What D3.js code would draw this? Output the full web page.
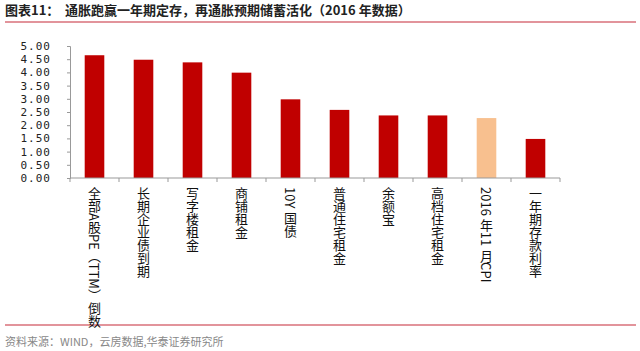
<!DOCTYPE html>
<html>
<head>
<meta charset="utf-8">
<script src="https://cdn.jsdelivr.net/npm/d3@7"></script>
<style>
  body { margin: 0; background: #fff; }
  svg { display: block; }
</style>
</head>
<body>
<div id="chart"></div>
<script>
// data
var categories = ["全部A股PE（TTM）倒数", "长期企业债到期", "写字楼租金", "商铺租金", "10Y 国债",
                  "普通住宅租金", "余额宝", "高档住宅租金", "2016 年11 月CPI", "一年期存款利率"];
var values = [4.65, 4.48, 4.38, 3.99, 2.98, 2.58, 2.37, 2.37, 2.27, 1.48];
var yTicks = [0, 0.5, 1, 1.5, 2, 2.5, 3, 3.5, 4, 4.5, 5];

var W = 640, H = 351;
var margin = {top: 46, left: 70, right: 80, bottom: 173};
var width = W - margin.left - margin.right,
    height = H - margin.top - margin.bottom;

var svg = d3.select("#chart").append("svg")
    .attr("width", W)
    .attr("height", H);

// title
svg.append("text")
    .attr("x", 5).attr("y", 15)
    .style("font-family", "Noto Sans CJK SC")
    .style("font-weight", "bold")
    .style("font-size", "13px")
    .style("fill", "#222")
    .text("图表11：");
svg.append("text")
    .attr("x", 65).attr("y", 15)
    .style("font-family", "Noto Sans CJK SC")
    .style("font-weight", "bold")
    .style("font-size", "13px")
    .style("fill", "#222")
    .text("通胀跑赢一年期定存，再通胀预期储蓄活化（2016 年数据）");

svg.append("line")
    .attr("x1", 5).attr("x2", 636).attr("y1", 22).attr("y2", 22)
    .style("stroke", "#d9707a").style("stroke-width", 1.5);

svg.append("line")
    .attr("x1", 5).attr("x2", 636).attr("y1", 325).attr("y2", 325)
    .style("stroke", "#d9707a").style("stroke-width", 1.5);

svg.append("text")
    .attr("x", 5).attr("y", 346)
    .style("font-family", "Noto Sans CJK SC")
    .style("font-size", "11px")
    .style("fill", "#888")
    .text("资料来源：WIND，云房数据,华泰证券研究所");

var g = svg.append("g")
    .attr("transform", "translate(" + margin.left + "," + margin.top + ")");

var x = d3.scaleBand()
    .domain(categories)
    .range([0, width])
    .paddingInner(0.6)
    .paddingOuter(0.3);

var y = d3.scaleLinear()
    .domain([0, 5])
    .range([height, 0]);

// bars
g.selectAll(".bar")
    .data(values)
    .enter()
    .append("rect")
    .attr("class", "bar")
    .attr("x", function(d, i) { return x(categories[i]); })
    .attr("width", x.bandwidth())
    .attr("y", function(d) { return y(d); })
    .attr("height", function(d) { return height - y(d); })
    .style("fill", function(d, i) { return categories[i].indexOf("CPI") >= 0 ? "#f8c08f" : "#c00000"; });

// y axis
var yAxis = g.append("g")
    .call(d3.axisLeft(y).tickValues(yTicks).tickSize(3).tickPadding(16)
        .tickFormat(d3.format(".2f")));
yAxis.select(".domain").style("stroke", "#999");
yAxis.selectAll(".tick line").style("stroke", "#999");
yAxis.selectAll("text")
    .style("font-family", "DejaVu Sans Mono")
    .style("font-size", "11px")
    .style("letter-spacing", "1px")
    .style("fill", "#222");

// x axis: line with ticks between categories
var step = x.step();
g.append("line")
    .attr("x1", 0).attr("x2", width)
    .attr("y1", height).attr("y2", height)
    .style("stroke", "#999");
g.selectAll(".xtick")
    .data(d3.range(categories.length + 1))
    .enter()
    .append("line")
    .attr("x1", function(i) { return i * step; })
    .attr("x2", function(i) { return i * step; })
    .attr("y1", height).attr("y2", height + 4)
    .style("stroke", "#999");

// vertical category labels
g.selectAll(".xlabel")
    .data(categories)
    .enter()
    .append("text")
    .attr("class", "xlabel")
    .attr("x", function(d) { return x(d) + x.bandwidth() / 2; })
    .attr("y", height + 9)
    .style("writing-mode", "vertical-rl")
    .style("font-family", "Noto Sans CJK SC")
    .style("font-size", "13px")
    .style("fill", "#111")
    .text(function(d) { return d; });
</script>
</body>
</html>
